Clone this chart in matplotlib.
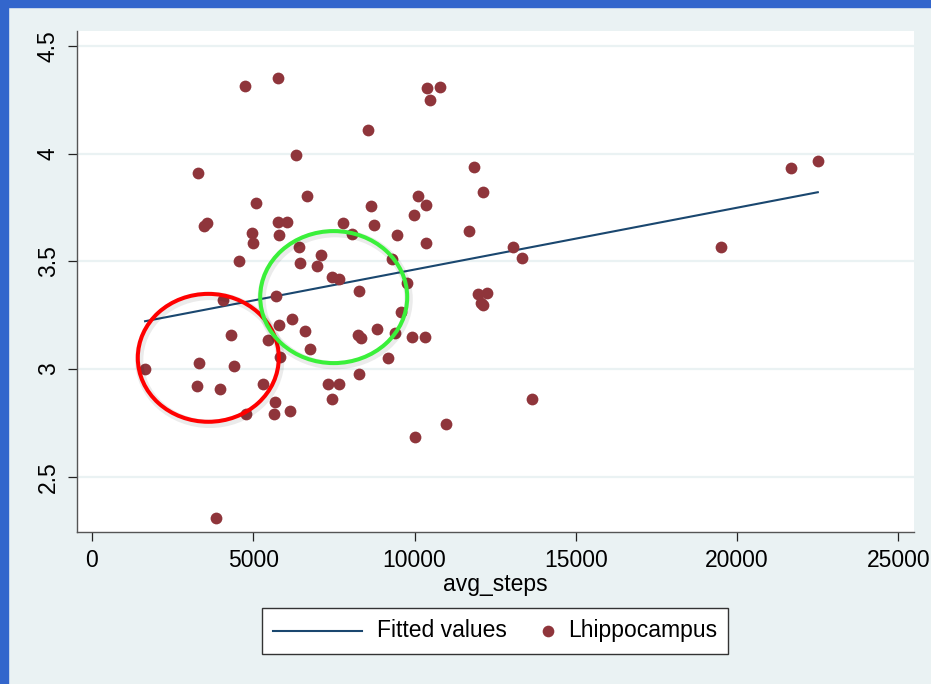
import matplotlib
matplotlib.use("Agg")
import matplotlib.pyplot as plt
from matplotlib.patches import Ellipse, Rectangle
from matplotlib.offsetbox import AnchoredOffsetbox, HPacker, TextArea, DrawingArea
from matplotlib.lines import Line2D
import matplotlib.patheffects as pe

plt.rcParams['font.family'] = ['Liberation Sans', 'DejaVu Sans']

# ---------------- data ----------------
avg_steps = [4742, 5776, 6335, 3292, 6667, 5093, 3561, 3488, 5767, 6056,
             7774, 8075, 4959, 5807, 4979, 6407, 7112, 4555, 6439, 6977,
             7443, 7650, 8292, 4058, 5714, 5797, 6211, 6594, 4307, 5466,
             6749, 8260, 8330, 5828, 1646, 3313, 4400, 3271, 3975, 5300,
             8292, 7308, 7660, 7432, 5673, 4773, 5631, 6128, 3841, 10373,
             10786, 10466, 8550, 11842, 12112, 10103, 10363, 8665, 9969, 8748,
             9472, 11677, 10363, 13043, 13333, 9317, 9772, 11966, 12255, 12050,
             12120, 9596, 8851, 9389, 9927, 10332, 9171, 13655, 10973, 10009,
             21677, 22505, 19503]
lhippocampus = [4.314, 4.350, 3.993, 3.911, 3.804, 3.770, 3.678, 3.664, 3.681, 3.681,
                3.678, 3.626, 3.632, 3.624, 3.585, 3.568, 3.528, 3.500, 3.494, 3.478,
                3.427, 3.418, 3.362, 3.319, 3.339, 3.204, 3.230, 3.176, 3.157, 3.136,
                3.091, 3.156, 3.146, 3.055, 3.002, 3.027, 3.012, 2.922, 2.906, 2.929,
                2.976, 2.929, 2.929, 2.861, 2.849, 2.792, 2.790, 2.806, 2.309, 4.303,
                4.308, 4.250, 4.112, 3.936, 3.822, 3.804, 3.764, 3.757, 3.717, 3.667,
                3.624, 3.643, 3.585, 3.565, 3.514, 3.512, 3.400, 3.350, 3.354, 3.306,
                3.298, 3.267, 3.184, 3.169, 3.151, 3.150, 3.053, 2.861, 2.745, 2.686,
                3.934, 3.967, 3.567]
fit_x = [1646, 22505]
fit_y = [3.222, 3.821]
x_ticks = [0, 5000, 10000, 15000, 20000, 25000]
y_ticks = [2.5, 3, 3.5, 4, 4.5]
y_tick_labels = ['2.5', '3', '3.5', '4', '4.5']
x_label = 'avg_steps'
legend_labels = ['Fitted values', 'Lhippocampus']
# highlight ellipses: (center x, center y, width, height)
red_ellipse = (3606, 3.052, 4372, 0.594)
green_ellipse = (7495, 3.334, 4558, 0.613)

# ---------------- style ----------------
BG = '#eaf2f3'
LINE_C = '#1a476f'
MARK_C = '#8f353b'
FS = 16.5
W, H = 931, 684

fig = plt.figure(figsize=(W / 100, H / 100), dpi=100, facecolor=BG)
ax = fig.add_axes([77 / W, 1 - 532 / H, (914 - 77) / W, (532 - 31) / H])
ax.set_facecolor('white')
ax.set_xlim(-465, 25488)
ax.set_ylim(2.2432, 4.5697)

ax.yaxis.grid(True, color=BG, linewidth=1.6)
ax.set_axisbelow(True)
for s in ['top', 'right']:
    ax.spines[s].set_visible(False)
for s in ['left', 'bottom']:
    ax.spines[s].set_color('#555555')
    ax.spines[s].set_linewidth(1.0)

ax.set_xticks(x_ticks)
ax.set_xticklabels([str(t) for t in x_ticks])
ax.set_yticks(y_ticks)
ax.set_yticklabels(y_tick_labels, rotation=90, va='center')
ax.tick_params(length=6.5, width=0.9, color='#222222', pad=6.0, labelsize=FS,
               labelcolor='black')
ax.set_xlabel(x_label, fontsize=FS, labelpad=0.5)

ax.plot(fit_x, fit_y, color=LINE_C, lw=1.5, zorder=2)
ax.scatter(avg_steps, lhippocampus, s=72, color=MARK_C, linewidths=0, zorder=3)

shadow = [pe.SimpleLineShadow(offset=(1.0, -1.5), shadow_color='black', alpha=0.08,
                              linewidth=6), pe.Normal()]
for (cx, cy, ew, eh), col in [(red_ellipse, '#ff0000'), (green_ellipse, '#3af03a')]:
    e = Ellipse((cx, cy), ew, eh, fill=False, edgecolor=col, lw=2.9, zorder=4,
                path_effects=shadow)
    ax.add_patch(e)

# blue frame strips (screenshot border)
fig.patches.append(Rectangle((0, 0), 8 / W, 1, transform=fig.transFigure,
                             color='#3366cc', zorder=0))
fig.patches.append(Rectangle((0, 1 - 7 / H), 1, 7 / H, transform=fig.transFigure,
                             color='#3366cc', zorder=0))

# legend
px = 72 / 100
da_line = DrawingArea(89 * px, 14 * px, 0, 0)
da_line.add_artist(Line2D([0, 89 * px], [7 * px, 7 * px], color=LINE_C, lw=1.5))
ta1 = TextArea(legend_labels[0], textprops=dict(fontsize=FS, color='black'))
da_m = DrawingArea(31 * px, 14 * px, 0, 0)
da_m.add_artist(Line2D([26 * px], [7 * px], marker='o', markersize=8.4,
                       color=MARK_C, ls='none', markeredgewidth=0))
ta2 = TextArea(legend_labels[1], textprops=dict(fontsize=FS, color='black'))
box = HPacker(children=[da_line, ta1, da_m, ta2], align='center', pad=0,
              sep=15 * px)
anch = AnchoredOffsetbox(loc='upper center', child=box, pad=0.5, frameon=True,
                         bbox_to_anchor=(495 / W, 1 - 608 / H),
                         bbox_transform=fig.transFigure, borderpad=0,
                         prop=dict(size=FS))
anch.patch.set_edgecolor('#333333')
anch.patch.set_linewidth(1.0)
anch.patch.set_facecolor('white')
fig.add_artist(anch)

fig.savefig('out.png', dpi=100, facecolor=BG)
